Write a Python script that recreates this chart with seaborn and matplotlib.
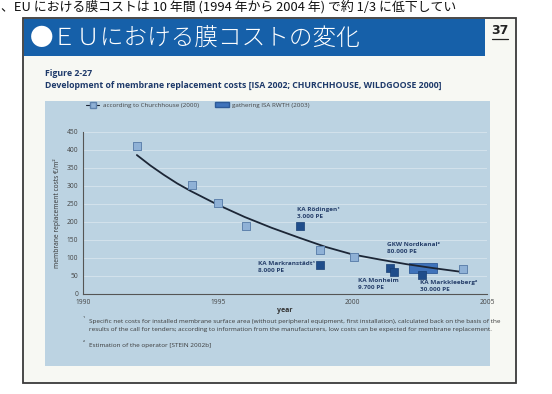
import numpy as np
import pandas as pd
import matplotlib
matplotlib.use("Agg")
import matplotlib.pyplot as plt
import seaborn as sns
from matplotlib.patches import Rectangle, Patch
from matplotlib.lines import Line2D

# ---------------- data ----------------
church_year = [1992.0, 1994.05, 1995.0, 1996.05, 1998.8, 2000.05, 2004.1]
church_cost = [410, 302, 252, 189, 122, 104, 70]

isa_plant = ["KA Rödingen", "KA Markranstädt", "KA Monheim", "KA Monheim", "KA Markkleeberg"]
isa_year = [1998.05, 1998.8, 2001.4, 2001.55, 2002.6]
isa_cost = [189, 81, 72, 61, 52]

nord_year = [2002.1, 2003.15]   # GKW Nordkanal range
nord_cost = [58, 86]

trend_year = [1992.0, 1992.5, 1993, 1993.5, 1994, 1995, 1996, 1997, 1998, 1999, 2000, 2001, 2002, 2003, 2004.0]
trend_cost = [386, 357, 331, 307, 286, 248, 214, 184, 157, 131, 110, 96, 83, 72, 62]

x_ticks = [1990, 1995, 2000, 2005]
y_ticks = [0, 50, 100, 150, 200, 250, 300, 350, 400, 450]

plant_labels = ["KA Rödingen¹\n3.000 PE", "KA Markranstädt¹\n8.000 PE", "KA Monheim\n9.700 PE",
                "GKW Nordkanal²\n80.000 PE", "KA Markkleeberg²\n30.000 PE"]

# ---------------- style ----------------
sns.set_theme(style="white")
plt.rcParams['font.family'] = ['Open Sans', 'Noto Sans CJK JP', 'DejaVu Sans']

W, H = 552, 394
fig = plt.figure(figsize=(W / 100, H / 100), dpi=100)
fig.patch.set_facecolor('white')


def fx(x):
    return x / W


def fy(y):
    return 1 - y / H


def prect(x0, y0, x1, y1, **kw):
    r = Rectangle((fx(x0), fy(y1)), fx(x1) - fx(x0), fy(y0) - fy(y1),
                  transform=fig.transFigure, **kw)
    fig.add_artist(r)
    return r


# slide frame
prect(23, 18, 516, 383, facecolor='#f7f8f3', edgecolor='#3a3a3a', lw=1.3, zorder=-10)
# title bar
prect(24, 19, 485, 56, facecolor='#1660a9', edgecolor='none', zorder=-9)
prect(485, 19, 515, 56, facecolor='#f7f8f3', edgecolor='none', zorder=-9)
# chart panel
prect(45, 101, 490, 366, facecolor='#bcd3e2', edgecolor='none', zorder=-8)

cjk = ['Noto Sans CJK JP', 'DejaVu Sans']
fig.text(fx(1), fy(7), "、EU における膜コストは 10 年間 (1994 年から 2004 年) で約 1/3 に低下してい",
         family=cjk, fontsize=9.3, color='#111111', ha='left', va='center')
fig.text(fx(30), fy(38), "●ＥＵにおける膜コストの変化", family=cjk, fontsize=17,
         color='white', ha='left', va='center', fontweight='light')
fig.text(fx(500), fy(31), "37", fontsize=9, fontweight='bold', color='#222222',
         ha='center', va='center', family=['DejaVu Sans'])
fig.add_artist(Line2D([fx(492), fx(508)], [fy(39), fy(39)], transform=fig.transFigure,
                      color='#222222', lw=0.9))

navy = '#1e3a6a'
fig.text(fx(45), fy(73), "Figure 2-27", fontsize=6.3, fontweight='bold', color=navy,
         ha='left', va='center')
fig.text(fx(45), fy(85), "Development of membrane replacement costs [ISA 2002; CHURCHHOUSE, WILDGOOSE 2000]",
         fontsize=6.3, fontweight='bold', color=navy, ha='left', va='center')

# ---------------- axes ----------------
ax = fig.add_axes([fx(83), fy(294), fx(487) - fx(83), fy(132) - fy(294)])
ax.set_facecolor('none')
ax.set_xlim(1990, 2005)
ax.set_ylim(0, 450)

for yv in y_ticks[1:]:
    ax.axhline(yv, color='#d3e2ec', lw=0.7, zorder=0)

ax.bar([(nord_year[0] + nord_year[1]) / 2], [nord_cost[1] - nord_cost[0]],
       bottom=[nord_cost[0]], width=nord_year[1] - nord_year[0],
       color='#3f73bb', edgecolor='#2d5a98', lw=0.6, zorder=2)

sns.lineplot(x=trend_year, y=trend_cost, ax=ax, color='#1c2636', lw=1.3, zorder=4)

sns.scatterplot(x=church_year, y=church_cost, ax=ax, marker='s', s=34,
                color='#8fb1d6', edgecolor='#5f83ad', linewidth=0.7, zorder=5)
sns.scatterplot(x=isa_year, y=isa_cost, ax=ax, marker='s', s=26,
                color='#1f4d8b', edgecolor='#183f74', linewidth=0.5, zorder=5)

label_pos = [(1997.95, 224), (1996.5, 74), (2000.2, 29), (2001.3, 129), (2002.5, 21)]
for (lx, ly), txt in zip(label_pos, plant_labels):
    ax.text(lx, ly, txt, fontsize=4.6, fontweight='bold', color='#27406b',
            ha='left', va='center', linespacing=1.5, zorder=6)

ax.set_xticks(x_ticks)
ax.set_yticks(y_ticks)
ax.tick_params(axis='both', labelsize=4.8, labelcolor='#444444', colors='#555555',
               direction='inout', length=3, width=0.6, pad=2)
for s in ['top', 'right']:
    ax.spines[s].set_visible(False)
for s in ['left', 'bottom']:
    ax.spines[s].set_color('#555555')
    ax.spines[s].set_linewidth(0.8)
ax.set_xlabel("year", fontsize=5, color='#333333', labelpad=1, fontweight='bold')
ax.set_ylabel("membrane replacement costs €/m²", fontsize=4.8, color='#333333', labelpad=4)
ax.grid(False)

handles = [Line2D([0], [0], color='#1c2636', lw=0.8, marker='s', markersize=4,
                  markerfacecolor='#8fb1d6', markeredgecolor='#5f83ad'),
           Patch(facecolor='#3f73bb', edgecolor='#2d5a98')]
leg = fig.legend(handles, ["according to Churchhouse (2000)", "gathering ISA RWTH (2003)"],
                 loc='center left', bbox_to_anchor=(fx(80), fy(105)), ncol=2, frameon=False,
                 fontsize=4.5, handlelength=2.2, handletextpad=0.6, columnspacing=2.5)
for t in leg.get_texts():
    t.set_color('#444444')

foot = '#3a3a3a'
fig.text(fx(83), fy(319), "¹", fontsize=4.2, color=foot, ha='left', va='center')
fig.text(fx(89), fy(321), "Specific net costs for installed membrane surface area (without peripheral equipment, first installation), calculated back on the basis of the",
         fontsize=4.6, color=foot, ha='left', va='center')
fig.text(fx(89), fy(329), "results of the call for tenders; according to information from the manufacturers, low costs can be expected for membrane replacement.",
         fontsize=4.6, color=foot, ha='left', va='center')
fig.text(fx(83), fy(343), "²", fontsize=4.2, color=foot, ha='left', va='center')
fig.text(fx(89), fy(345), "Estimation of the operator [STEIN 2002b]",
         fontsize=4.6, color=foot, ha='left', va='center')

fig.savefig("out.png", dpi=100)
